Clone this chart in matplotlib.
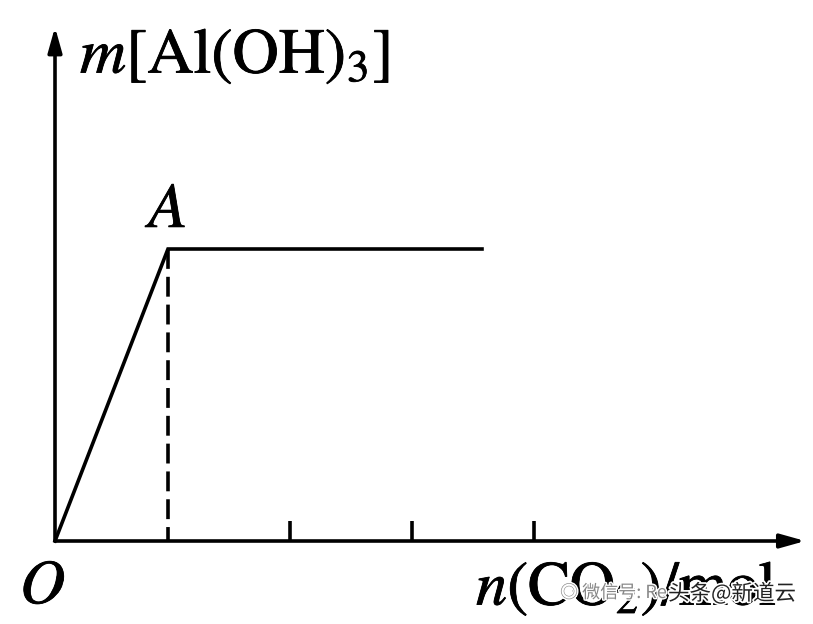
import matplotlib
matplotlib.use("Agg")
import matplotlib.pyplot as plt
import matplotlib.patheffects as pe

plt.rcParams['mathtext.fontset'] = 'stix'
plt.rcParams['font.family'] = ['STIXGeneral', 'DejaVu Sans']

# data (n in tick units, m relative to point A)
line_x = [0.0, 0.926, 3.5]
line_y = [0.0, 1.0, 1.0]
tick_x = [0.926, 1.926, 2.926, 3.926]
A_x, A_y = 0.926, 1.0
x_axis_end = 6.15
y_axis_end = 1.76

fig = plt.figure(figsize=(8.13, 6.24), dpi=100)
ax = fig.add_axes([0, 0, 1, 1])
ax.set_xlim(-55/122, (813-55)/122)
ax.set_ylim(-83/292, (624-83)/292)
ax.axis('off')

lw = 2.6
# axes with arrows
ax.annotate('', xy=(x_axis_end, 0), xytext=(0, 0),
            arrowprops=dict(arrowstyle='-|>,head_length=1.5,head_width=0.42',
                            lw=lw, color='black', shrinkA=0, shrinkB=0))
ax.annotate('', xy=(0, y_axis_end), xytext=(0, 0),
            arrowprops=dict(arrowstyle='-|>,head_length=1.5,head_width=0.42',
                            lw=lw, color='black', shrinkA=0, shrinkB=0))

# ticks
for t in tick_x[1:]:
    ax.plot([t, t], [0, 20/292], color='black', lw=lw, solid_capstyle='butt')

# data line
ax.plot(line_x, line_y, color='black', lw=lw, solid_joinstyle='miter')
# dashed drop line (drawn from A downward)
ax.plot([A_x, A_x], [A_y, 0], color='black', lw=lw, dashes=(5.5, 2.2))

stroke = [pe.withStroke(linewidth=0.6, foreground='black')]
# labels
ax.text((80-55)/122, (541-73)/292, r'$m\mathrm{[Al(OH)_3]}$', fontsize=46,
        ha='left', va='baseline', path_effects=stroke)
ax.text(A_x + 1/122, A_y + 8/292, r'$A$', fontsize=46, ha='center', va='bottom',
        path_effects=stroke)
ax.text((20-55)/122, -(603-541)/292, r'$O$', fontsize=45, ha='left', va='baseline',
        path_effects=stroke)
ax.text((476-55)/122, -(605-541)/292, r'$n\mathrm{(CO_2)/mol}$', fontsize=45,
        ha='left', va='baseline', path_effects=stroke)

# watermark
ax.text((560-55)/122, -(598-541)/292, '◎ 微信号: Re', fontsize=13,
        family=['Noto Sans CJK SC', 'DejaVu Sans'], color='#888888',
        ha='left', va='baseline',
        path_effects=[pe.withStroke(linewidth=2, foreground='white')])
ax.text((668-55)/122, -(600-541)/292, '头条@新道云', fontsize=15.5,
        family=['Noto Sans CJK SC', 'DejaVu Sans'], color='#222222',
        ha='left', va='baseline',
        path_effects=[pe.withStroke(linewidth=2.5, foreground='white')])

fig.savefig('out.png', dpi=100)
